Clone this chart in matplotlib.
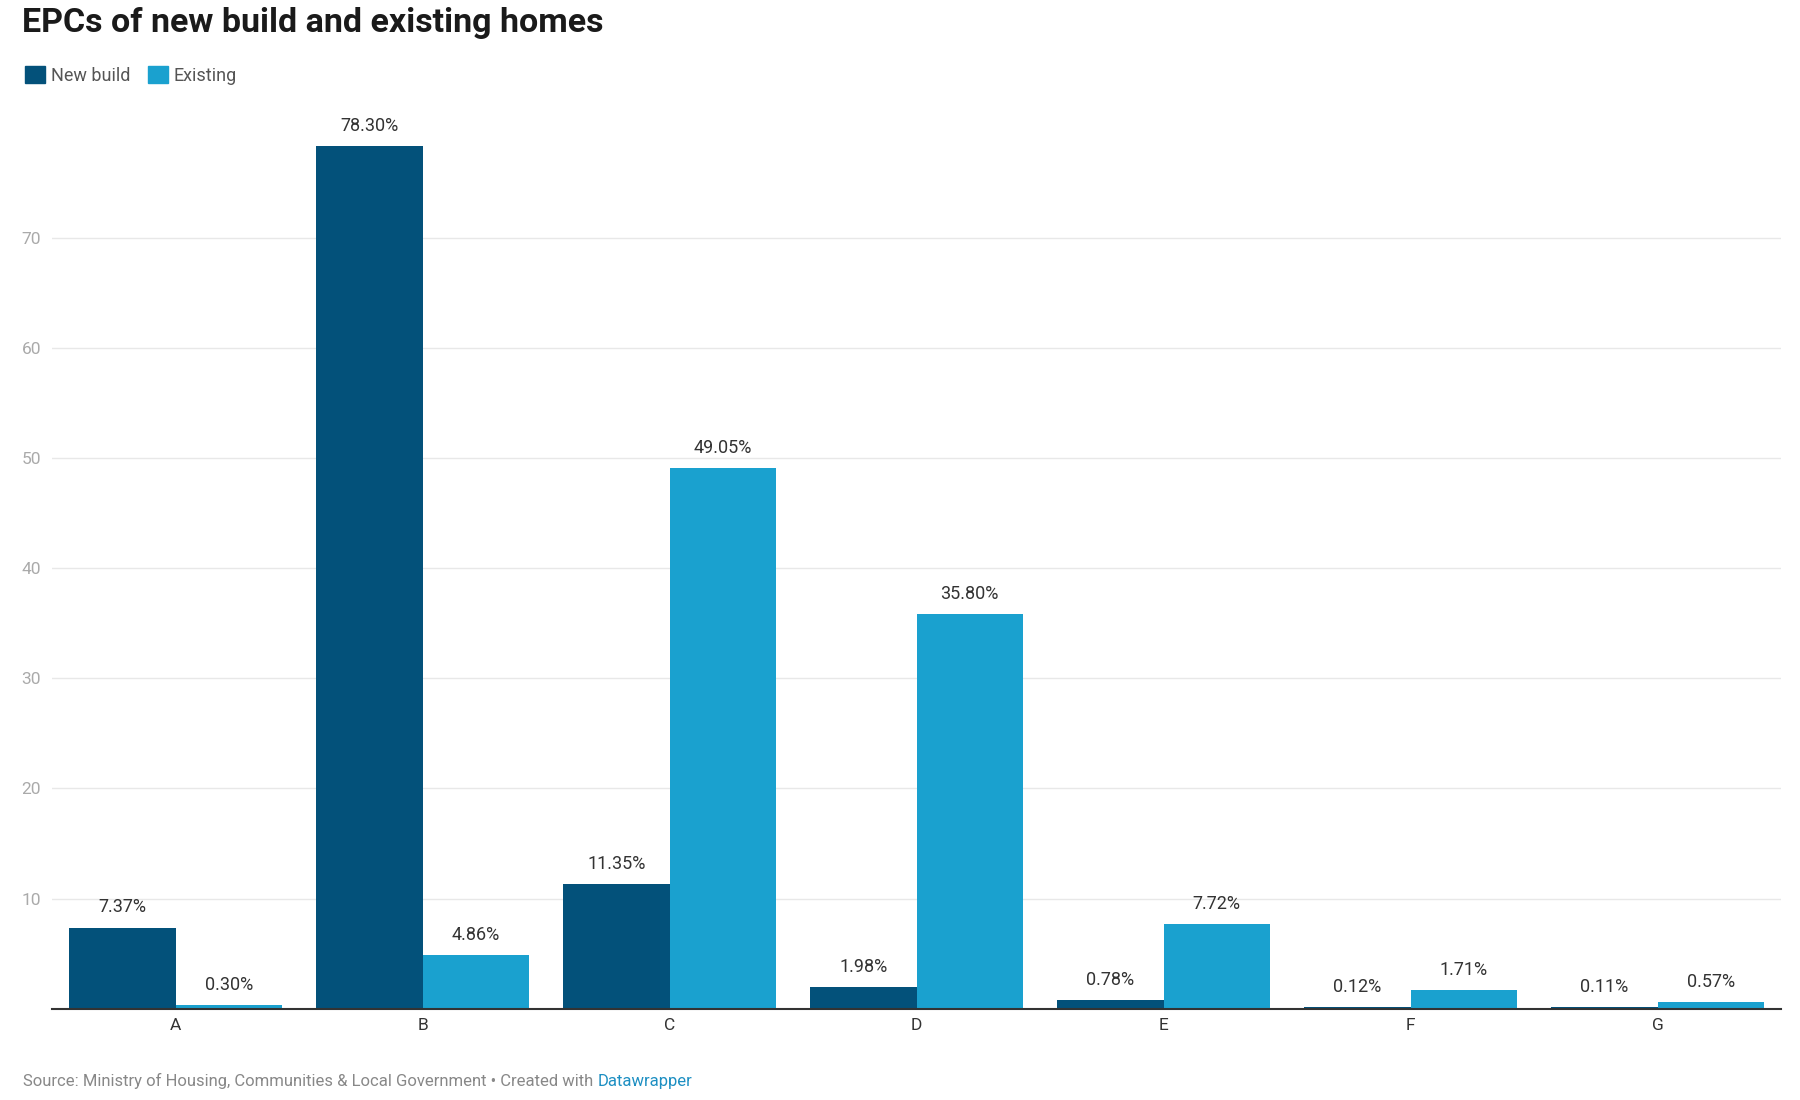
import matplotlib
matplotlib.use('Agg')
from matplotlib import pyplot as plt
from matplotlib.patches import Patch
import numpy as np

plt.rcParams['font.family'] = ['Roboto', 'DejaVu Sans']

# EPC 等級
ratings = ['A', 'B', 'C', 'D', 'E', 'F', 'G']
new_build = [7.37, 78.30, 11.35, 1.98, 0.78, 0.12, 0.11]
existing = [0.30, 4.86, 49.05, 35.80, 7.72, 1.71, 0.57]
y_ticks = [10, 20, 30, 40, 50, 60, 70]

dark = '#03517a'
light = '#1aa1cf'
text_col = '#333333'

fig = plt.figure(figsize=(18, 11), dpi=100)
ax = fig.add_axes([0.029, 0.083, 0.9605, 0.801])

x = np.arange(len(ratings))
w = 0.43
b1 = ax.bar(x - w/2, new_build, w, color=dark, zorder=3)
b2 = ax.bar(x + w/2, existing, w, color=light, zorder=3)

for bars, vals in ((b1, new_build), (b2, existing)):
	for bar, v in zip(bars, vals):
		ax.annotate('%.2f%%' % v, (bar.get_x() + bar.get_width()/2, v),
					xytext=(0, 8), textcoords='offset points',
					ha='center', va='bottom', fontsize=13, color=text_col)

ax.set_xlim(-0.5, len(ratings) - 0.5)
ax.set_ylim(0, 80)
ax.set_yticks(y_ticks)
ax.set_xticks(x)
ax.set_xticklabels(ratings)
ax.grid(axis='y', color='#e8e8e8', linewidth=1, zorder=0)
for s in ['top', 'right', 'left']:
	ax.spines[s].set_visible(False)
ax.spines['bottom'].set_color('#333333')
ax.spines['bottom'].set_linewidth(1.5)
ax.spines['bottom'].set_zorder(4)
ax.tick_params(axis='y', length=0, labelsize=12.5, labelcolor='#aaaaaa', pad=8)
ax.tick_params(axis='x', length=0, labelsize=12.5, labelcolor=text_col, pad=7)

fig.text(0.012, 0.979, 'EPCs of new build and existing homes', fontsize=24.5,
		 fontweight='bold', color='#1a1a1a', ha='left', va='center')

handles = [Patch(color=dark), Patch(color=light)]
fig.legend(handles, ['New build', 'Existing'], loc='upper left',
		   bbox_to_anchor=(0.005, 0.955), ncol=2, frameon=False,
		   fontsize=13, handlelength=1.1, handleheight=1.1,
		   handletextpad=0.3, columnspacing=1.0, labelcolor='#555555')

src = fig.text(0.013, 0.017, 'Source: Ministry of Housing, Communities & Local Government \u2022 Created with ',
			   fontsize=12, color='#888888', ha='left', va='center')
fig.canvas.draw()
bb = src.get_window_extent().transformed(fig.transFigure.inverted())
fig.text(bb.x1, 0.017, 'Datawrapper', fontsize=12, color='#1d8fc2',
		 ha='left', va='center')

plt.savefig('out.png', dpi=100, facecolor='white')
